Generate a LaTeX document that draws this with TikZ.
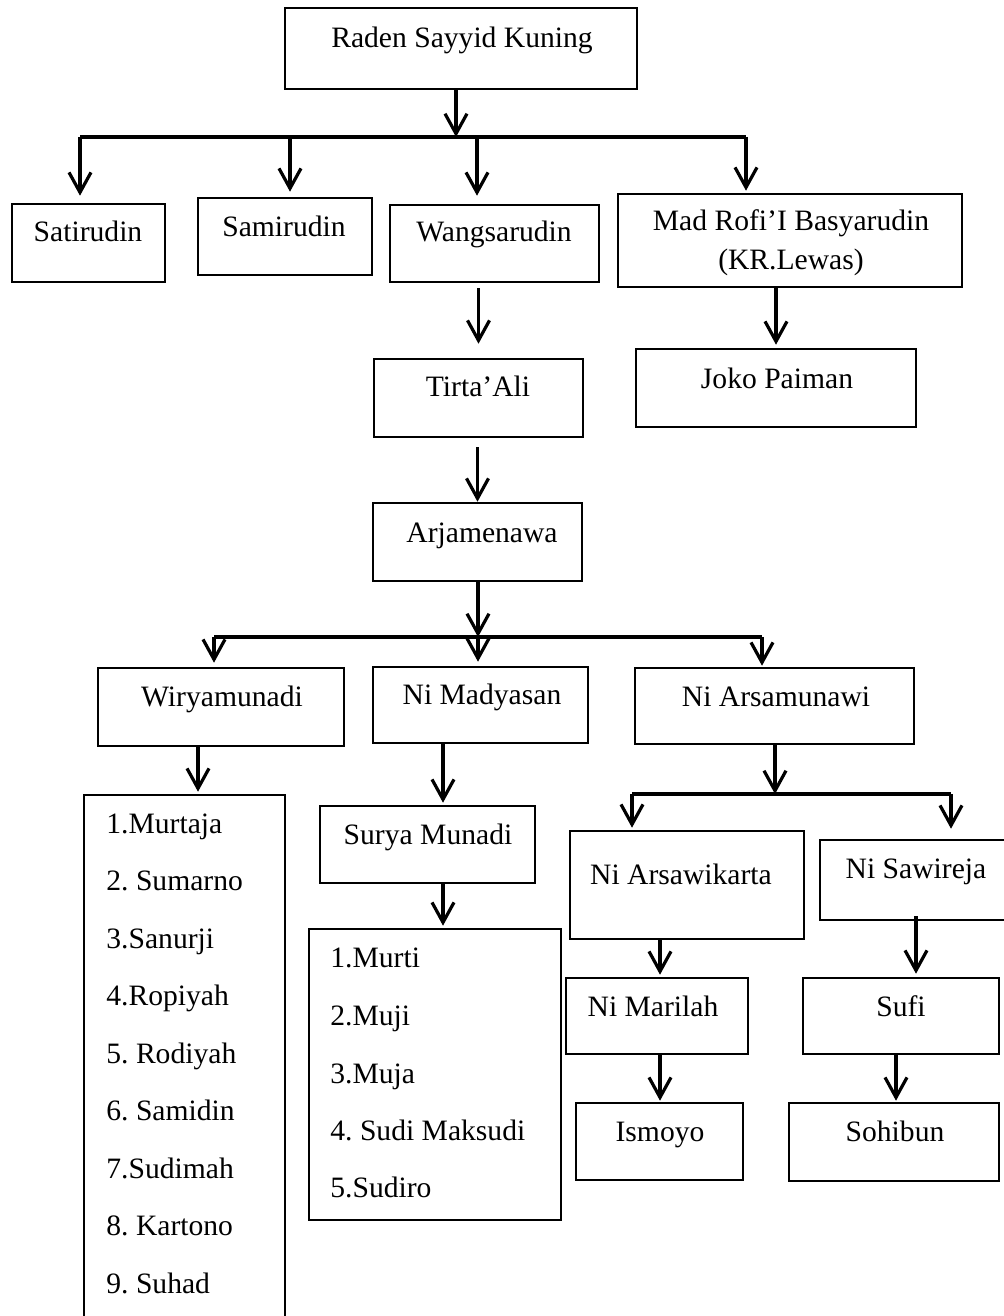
\documentclass[tikz,border=0pt]{standalone}
\usepackage{fontspec}
\setmainfont{Liberation Serif}
\usetikzlibrary{arrows.meta,fit}
\frenchspacing
\tikzset{
  bx/.style={draw, line width=1.3pt, inner sep=0pt},
  tx/.style={font=\fontsize{14.8}{17}\selectfont, inner sep=0pt, anchor=base},
  lt/.style={font=\fontsize{14.8}{17}\selectfont, inner sep=0pt, anchor=base west},
  arr/.style={line width=1.6pt, -{Straight Barb[length=10pt,width=11pt,line width=1.6pt]}},
  barline/.style={line width=2.2pt},
}
\begin{document}
\begin{tikzpicture}[x=0.5pt,y=-0.5pt]
\useasboundingbox (0,0) rectangle (1004,1316);
% boxes
\node[bx, fit={(285,8)(637,89)}] (raden) {};
\node[bx, fit={(12,204)(165,282)}] (sat) {};
\node[bx, fit={(198,198)(372,275)}] (sam) {};
\node[bx, fit={(390,205)(599,282)}] (wang) {};
\node[bx, fit={(618,194)(962,287)}] (mad) {};
\node[bx, fit={(374,359)(583,437)}] (tirta) {};
\node[bx, fit={(636,349)(916,427)}] (joko) {};
\node[bx, fit={(373,503)(582,581)}] (arj) {};
\node[bx, fit={(98,668)(344,746)}] (wiry) {};
\node[bx, fit={(373,667)(588,743)}] (mady) {};
\node[bx, fit={(635,668)(914,744)}] (arsa) {};
\node[bx, fit={(84,795)(285,1340)}] (list1) {};
\node[bx, fit={(320,806)(535,883)}] (surya) {};
\node[bx, fit={(309,929)(561,1220)}] (list2) {};
\node[bx, fit={(570,831)(804,939)}] (arsw) {};
\node[bx, fit={(820,840)(1012,920)}] (sawi) {};
\node[bx, fit={(566,978)(748,1054)}] (mari) {};
\node[bx, fit={(803,978)(999,1054)}] (sufi) {};
\node[bx, fit={(576,1103)(743,1180)}] (ismo) {};
\node[bx, fit={(789,1103)(999,1181)}] (sohi) {};
% texts
\node[tx] (raden-t) at (462,48) {Raden Sayyid Kuning};
\node[tx] (sat-t) at (88,242) {Satirudin};
\node[tx] (sam-t) at (284,236) {Samirudin};
\node[tx] (wang-t) at (494,242) {Wangsarudin};
\node[tx] (mad-t1) at (791,231) {Mad Rofi’I Basyarudin};
\node[tx] (mad-t2) at (791,270) {(KR.Lewas)};
\node[tx] (tirta-t) at (478,396) {Tirta’Ali};
\node[tx] (joko-t) at (777,388) {Joko Paiman};
\node[tx] (arj-t) at (482,542) {Arjamenawa};
\node[tx] (wiry-t) at (222,706) {Wiryamunadi};
\node[tx] (mady-t) at (482,704) {Ni Madyasan};
\node[tx] (arsa-t) at (776,706) {Ni Arsamunawi};
\node[lt] (l1a) at (106,833) {1.Murtaja};
\node[lt] (l1b) at (106,890.5) {2. Sumarno};
\node[lt] (l1c) at (106,948) {3.Sanurji};
\node[lt] (l1d) at (106,1005.5) {4.Ropiyah};
\node[lt] (l1e) at (106,1063) {5. Rodiyah};
\node[lt] (l1f) at (106,1120.5) {6. Samidin};
\node[lt] (l1g) at (106,1178) {7.Sudimah};
\node[lt] (l1h) at (106,1235.5) {8. Kartono};
\node[lt] (l1i) at (106,1293) {9. Suhad};
\node[tx] (surya-t) at (428,844) {Surya Munadi};
\node[lt] (l2a) at (330,967) {1.Murti};
\node[lt] (l2b) at (330,1025) {2.Muji};
\node[lt] (l2c) at (330,1083) {3.Muja};
\node[lt] (l2d) at (330,1140) {4. Sudi Maksudi};
\node[lt] (l2e) at (330,1197) {5.Sudiro};
\node[tx] (arsw-t) at (681,884) {Ni Arsawikarta};
\node[tx] (sawi-t) at (916,878) {Ni Sawireja};
\node[tx] (mari-t) at (653,1016) {Ni Marilah};
\node[tx] (sufi-t) at (901,1016) {Sufi};
\node[tx] (ismo-t) at (660,1141) {Ismoyo};
\node[tx] (sohi-t) at (895,1141) {Sohibun};
% coordinates
\coordinate (j0) at (456,137);
\coordinate (b1L) at (80,137);
\coordinate (b1a) at (290,137);
\coordinate (b1b) at (477,137);
\coordinate (b1R) at (746,137);
\coordinate (j2) at (478,637);
\coordinate (b2L) at (214,637);
\coordinate (b2R) at (762,637);
\coordinate (j3) at (775,794);
\coordinate (b3L) at (632,794);
\coordinate (b3R) at (951,794);
\coordinate (w1) at (198,746);
\coordinate (m1) at (443,743);
\coordinate (s1) at (443,883);
\coordinate (a1) at (660,939);
\coordinate (s2) at (916,916);
\coordinate (a2) at (660,1054);
\coordinate (s3) at (896,1054);
% level 1
\draw[arr] (raden.south -| j0) -- (j0);
\draw[barline] (b1L) -- (b1R);
\draw[arr, shorten >=3.5pt] (b1L) -- (b1L |- sat.north);
\draw[arr, shorten >=2.5pt] (b1a) -- (b1a |- sam.north);
\draw[arr, shorten >=4pt] (b1b) -- (b1b |- wang.north);
\draw[arr, shorten >=1pt] (b1R) -- (b1R |- mad.north);
% level 2
\draw[arr, shorten <=2.5pt, shorten >=7pt] (wang.south -| tirta.north) -- (tirta.north);
\draw[arr, shorten >=1.5pt] (mad.south -| joko.north) -- (joko.north);
\draw[arr, shorten <=4.5pt] (tirta.south -| arj.north) -- (arj.north);
% level 3
\draw[arr] (arj.south -| j2) -- (j2);
\draw[barline] (b2L) -- (b2R);
\draw[arr, shorten >=2pt] (b2L) -- (b2L |- wiry.north);
\draw[arr, shorten >=2pt] (j2) -- (j2 |- mady.north);
\draw[arr, shorten >=0.5pt] (b2R) -- (b2R |- arsa.north);
% level 4
\draw[arr, shorten >=1pt] (w1) -- (w1 |- list1.north);
\draw[arr, shorten >=1pt] (m1) -- (m1 |- surya.north);
\draw[arr] (arsa.south -| j3) -- (j3);
\draw[barline] (b3L) -- (b3R);
\draw[arr, shorten >=1pt] (b3L) -- (b3L |- arsw.north);
\draw[arr, shorten >=5pt] (b3R) -- (b3R |- sawi.north);
% level 5
\draw[arr, shorten >=1pt] (s1) -- (s1 |- list2.north);
\draw[arr, shorten >=1pt] (a1) -- (a1 |- mari.north);
\draw[arr, shorten >=1.5pt] (s2) -- (s2 |- sufi.north);
\draw[arr, shorten >=0.5pt] (a2) -- (a2 |- ismo.north);
\draw[arr, shorten >=0.5pt] (s3) -- (s3 |- sohi.north);
\end{tikzpicture}
\end{document}
